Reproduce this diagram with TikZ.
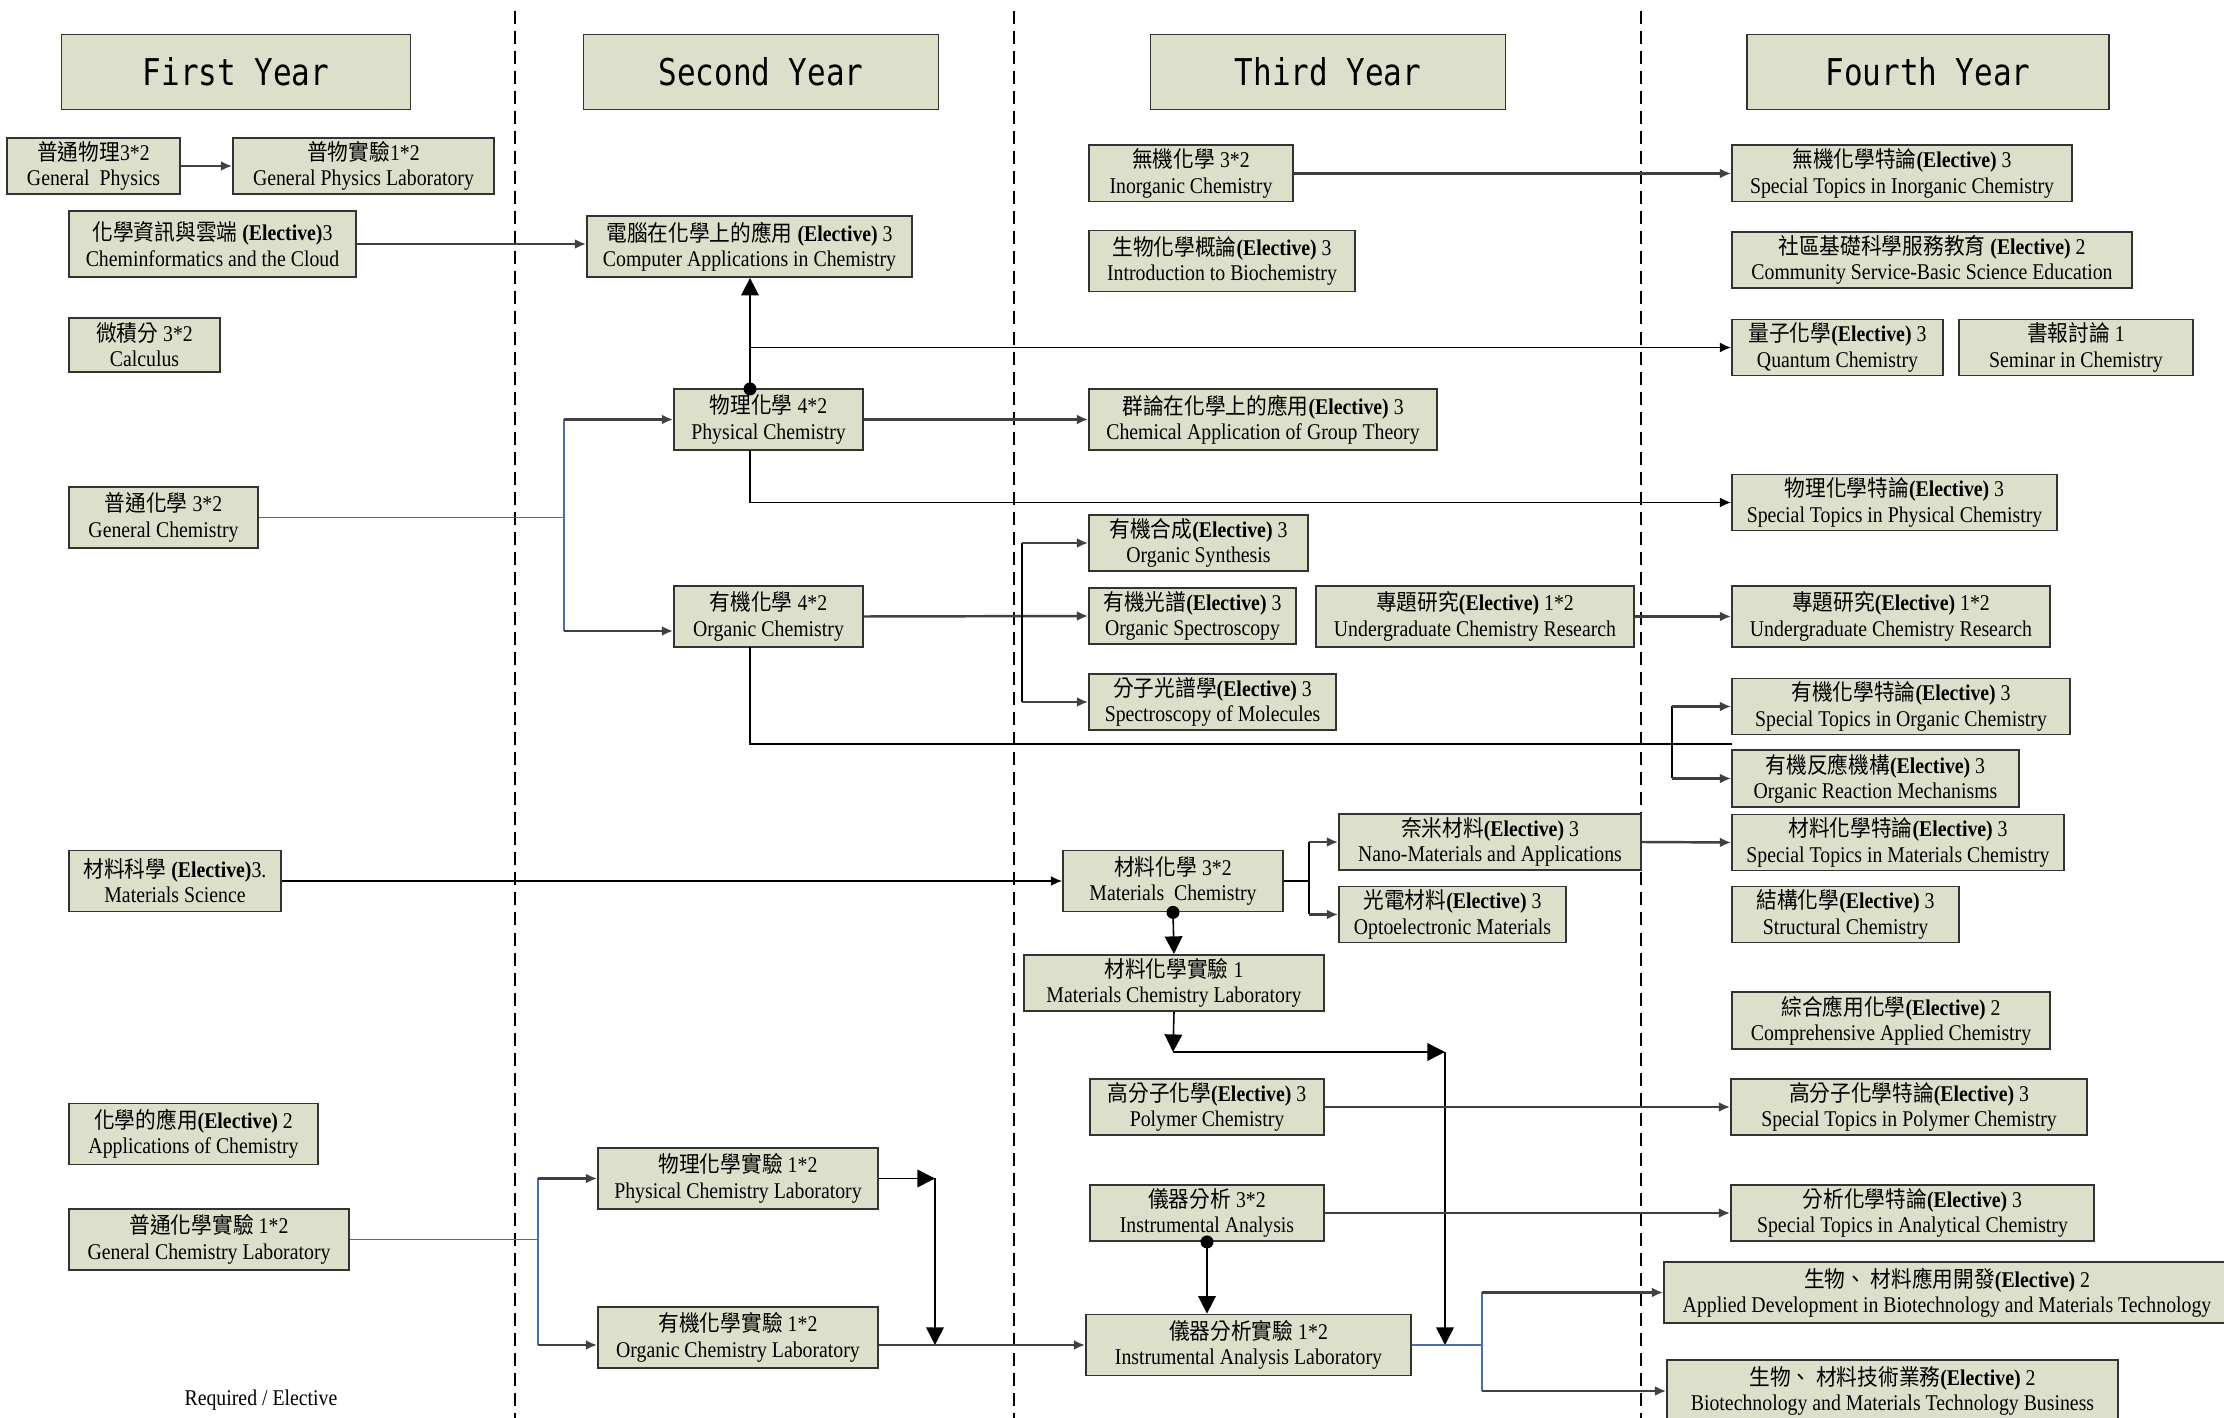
\documentclass[tikz,border=0pt]{standalone}
\usepackage{fontspec}
\setmainfont{Liberation Serif}[FakeStretch=0.88]
\newfontfamily\cjk{Noto Sans CJK TC}[FakeStretch=0.92]
\newfontfamily\hdr{DejaVu Sans Mono}[FakeStretch=0.84]
\usetikzlibrary{arrows.meta}
\definecolor{boxfill}{HTML}{DCE0CB}
\definecolor{lineblue}{HTML}{4A6EA9}
\newcommand{\zh}[1]{{\cjk #1}}
\newcommand{\el}{\textbf{(Elective)}}

\begin{document}
\begin{tikzpicture}[
  box/.style={rectangle,draw=black!80,line width=0.5pt,fill=boxfill,
              minimum height=0.54cm,inner sep=1pt,align=center,
              font=\fontsize{6.4}{7.2}\selectfont},
  tall/.style={box,minimum height=0.61cm},
  yearbox/.style={rectangle,draw=black!80,line width=0.5pt,fill=boxfill,
              minimum width=3.55cm,minimum height=0.75cm,
              font=\hdr\fontsize{10.5}{12}\selectfont},
  colsep/.style={draw=black,line width=0.6pt,dash pattern=on 3.7pt off 2pt},
  arr/.style={-{Latex[length=3.2pt,width=2.8pt]},draw=black!75,line width=0.7pt},
  lnk/.style={draw=black,line width=0.45pt},
  lnkarr/.style={lnk,-{Latex[length=3.2pt,width=2.8pt]}},
  blu/.style={draw=lineblue,line width=0.45pt},
  tri/.style={-{Triangle[length=5pt,width=5pt]},draw=black,line width=0.45pt}
]
\useasboundingbox (0,0) rectangle (22.24,-14.18);
\clip (0,0) rectangle (22.24,-14.18);

% Year separators
\draw[colsep] (5.15,-0.11) -- (5.15,-14.18);
\draw[colsep] (10.14,-0.11) -- (10.14,-14.18);
\draw[colsep] (16.41,-0.11) -- (16.41,-14.18);

% Year headers
\node[yearbox,minimum width=3.49cm] (yr1) at (2.36,-0.72) {First Year};
\node[yearbox] (yr2) at (7.61,-0.72) {Second Year};
\node[yearbox] (yr3) at (13.28,-0.72) {Third Year};
\node[yearbox,minimum width=3.62cm] (yr4) at (19.28,-0.72) {Fourth Year};

% First year
\node[box,minimum width=1.73cm] (gp)   at (0.935,-1.66) {\zh{普通物理}3*2\\General~~Physics};
\node[box,minimum width=2.61cm] (gpl)  at (3.635,-1.66) {\zh{普物實驗}1*2\\General Physics Laboratory};
\node[box,minimum width=2.87cm,minimum height=0.66cm] (cic) at (2.125,-2.44) {\zh{化學資訊與雲端} \el3\\Cheminformatics and the Cloud};
\node[box,minimum width=1.51cm] (calc) at (1.445,-3.45) {\zh{微積分} 3*2\\Calculus};
\node[tall,minimum width=1.89cm] (gc)  at (1.635,-5.175) {\zh{普通化學} 3*2\\General Chemistry};
\node[tall,minimum width=2.12cm] (ms)  at (1.75,-8.81) {\zh{材料科學} \el3.\\Materials Science};
\node[tall,minimum width=2.49cm] (aoc) at (1.935,-11.34) {\zh{化學的應用}\el{} 2\\Applications of Chemistry};
\node[tall,minimum width=2.80cm] (gcl) at (2.09,-12.395) {\zh{普通化學實驗} 1*2\\General Chemistry Laboratory};
\node[font=\fontsize{6.4}{7.2}\selectfont] (legend) at (2.61,-14.00) {Required / Elective};

% Second year
\node[tall,minimum width=3.25cm] (cac) at (7.495,-2.465) {\zh{電腦在化學上的應用} \el{} 3\\Computer Applications in Chemistry};
\node[tall,minimum width=1.89cm] (pc)  at (7.685,-4.195) {\zh{物理化學} 4*2\\Physical Chemistry};
\node[tall,minimum width=1.89cm] (oc)  at (7.685,-6.165) {\zh{有機化學} 4*2\\Organic Chemistry};
\node[tall,minimum width=2.80cm] (pcl) at (7.38,-11.785) {\zh{物理化學實驗} 1*2\\Physical Chemistry Laboratory};
\node[tall,minimum width=2.80cm] (ocl) at (7.38,-13.375) {\zh{有機化學實驗} 1*2\\Organic Chemistry Laboratory};

% Third year
\node[box,minimum width=2.04cm]  (ic)    at (11.91,-1.735) {\zh{無機化學} 3*2\\Inorganic Chemistry};
\node[tall,minimum width=2.66cm] (bio)   at (12.22,-2.61) {\zh{生物化學概論}\el{} 3\\Introduction to Biochemistry};
\node[tall,minimum width=3.48cm] (grp)   at (12.63,-4.195) {\zh{群論在化學上的應用}\el{} 3\\Chemical Application of Group Theory};
\node[box,minimum width=2.19cm]  (osyn)  at (11.985,-5.43) {\zh{有機合成}\el{} 3\\Organic Synthesis};
\node[box,minimum width=2.07cm]  (ospec) at (11.925,-6.16) {\zh{有機光譜}\el{} 3\\Organic Spectroscopy};
\node[tall,minimum width=3.18cm] (ucr3)  at (14.75,-6.165) {\zh{專題研究}\el{} 1*2\\Undergraduate Chemistry Research};
\node[box,minimum width=2.47cm]  (smol)  at (12.125,-7.02) {\zh{分子光譜學}\el{} 3\\Spectroscopy of Molecules};
\node[tall,minimum width=2.20cm] (mc)    at (11.73,-8.81) {\zh{材料化學} 3*2\\Materials~~Chemistry};
\node[box,minimum width=3.02cm]  (nano)  at (14.90,-8.42) {\zh{奈米材料}\el{} 3\\Nano-Materials and Applications};
\node[box,minimum width=2.27cm]  (opto)  at (14.525,-9.145) {\zh{光電材料}\el{} 3\\Optoelectronic Materials};
\node[box,minimum width=3.00cm]  (mcl)   at (11.74,-9.83) {\zh{材料化學實驗} 1\\Materials Chemistry Laboratory};
\node[box,minimum width=2.34cm]  (poly)  at (12.07,-11.07) {\zh{高分子化學}\el{} 3\\Polymer Chemistry};
\node[box,minimum width=2.34cm]  (ia)    at (12.07,-12.13) {\zh{儀器分析} 3*2\\Instrumental Analysis};
\node[tall,minimum width=3.25cm] (ial)   at (12.485,-13.45) {\zh{儀器分析實驗} 1*2\\Instrumental Analysis Laboratory};

% Fourth year
\node[box,minimum width=3.40cm]  (stic)   at (19.02,-1.735) {\zh{無機化學特論}\el{} 3\\Special Topics in Inorganic Chemistry};
\node[box,minimum width=4.00cm]  (csb)    at (19.32,-2.60) {\zh{社區基礎科學服務教育} \el{} 2\\Community Service-Basic Science Education};
\node[box,minimum width=2.11cm]  (qc)     at (18.375,-3.475) {\zh{量子化學}\el{} 3\\Quantum Chemistry};
\node[box,minimum width=2.34cm]  (sem)    at (20.76,-3.475) {\zh{書報討論} 1\\Seminar in Chemistry};
\node[box,minimum width=3.25cm]  (stpc)   at (18.945,-5.025) {\zh{物理化學特論}\el{} 3\\Special Topics in Physical Chemistry};
\node[tall,minimum width=3.18cm] (ucr4)   at (18.91,-6.165) {\zh{專題研究}\el{} 1*2\\Undergraduate Chemistry Research};
\node[box,minimum width=3.38cm]  (stoc)   at (19.01,-7.065) {\zh{有機化學特論}\el{} 3\\Special Topics in Organic Chemistry};
\node[box,minimum width=2.87cm]  (orm)    at (18.755,-7.785) {\zh{有機反應機構}\el{} 3\\Organic Reaction Mechanisms};
\node[box,minimum width=3.32cm]  (stmc)   at (18.98,-8.425) {\zh{材料化學特論}\el{} 3\\Special Topics in Materials Chemistry};
\node[box,minimum width=2.27cm]  (stc)    at (18.455,-9.145) {\zh{結構化學}\el{} 3\\Structural Chemistry};
\node[box,minimum width=3.18cm]  (capp)   at (18.91,-10.205) {\zh{綜合應用化學}\el{} 2\\Comprehensive Applied Chemistry};
\node[box,minimum width=3.56cm]  (stpoly) at (19.09,-11.07) {\zh{高分子化學特論}\el{} 3\\Special Topics in Polymer Chemistry};
\node[box,minimum width=3.63cm]  (stac)   at (19.125,-12.13) {\zh{分析化學特論}\el{} 3\\Special Topics in Analytical Chemistry};
\node[tall,minimum width=5.66cm] (bioapp) at (19.47,-12.925) {\zh{生物、 材料應用開發}\el{} 2\\Applied Development in Biotechnology and Materials Technology};
\node[tall,minimum width=4.51cm,minimum height=0.62cm] (biobiz) at (18.925,-13.91) {\zh{生物、 材料技術業務}\el{} 2\\Biotechnology and Materials Technology Business};

% Branch points
\coordinate (gcj)  at (5.64,-5.175);
\coordinate (gcb)  at (5.64,-6.31);
\coordinate (pct)  at (7.50,-3.89);
\coordinate (pcs)  at (7.50,-4.50);
\coordinate (ocj)  at (10.22,-6.16);
\coordinate (ocs)  at (7.50,-6.47);
\coordinate (ocend) at (17.32,-7.44);
\coordinate (oj)   at (16.72,-7.44);
\coordinate (mcj)  at (13.09,-8.81);
\coordinate (mcA)  at (11.73,-10.52);
\coordinate (mcB)  at (14.45,-10.52);
\coordinate (mcC)  at (14.45,-13.45);
\coordinate (pclA) at (9.35,-11.785);
\coordinate (pclB) at (9.35,-13.45);
\coordinate (gclj) at (5.38,-12.395);
\coordinate (gclb) at (5.38,-13.45);
\coordinate (ialj) at (14.82,-13.45);

% First year links
\draw[arr] (gp.east) -- (gpl.west);
\draw[arr] (cic.east) -- (cic.east -| cac.west);
\draw[blu] (gc.east) -- (gcj);
\draw[blu] (gcj |- pc.west) -- (gcb);
\draw[arr] (gcj |- pc.west) -- (pc.west);
\draw[arr] (gcb) -- (gcb -| oc.west);
\draw[lnkarr] (ms.east) -- (mc.west);
\draw[blu] (gcl.east) -- (gclj);
\draw[blu] (gclj |- pcl.west) -- (gclb);
\draw[arr] (gclj |- pcl.west) -- (pcl.west);
\draw[arr] (gclb) -- (gclb -| ocl.west);

% Second year links
\draw[tri] (pct) -- (pct |- cac.south);
\fill (pct) circle (0.065cm);
\draw[lnkarr] (pct |- qc.west) -- (qc.west);
\draw[arr] (pc.east) -- (grp.west);
\draw[lnkarr] (pcs) |- (stpc.west);
\draw[arr] (oc.east) -- (ospec.west);
\draw[lnk] (ocj |- osyn.west) -- (ocj |- smol.west);
\draw[arr] (ocj |- osyn.west) -- (osyn.west);
\draw[arr] (ocj |- smol.west) -- (smol.west);
\draw[lnk] (ocs) |- (ocend);
\draw[lnk] (oj |- stoc.west) -- (oj |- orm.west);
\draw[arr] (oj |- stoc.west) -- (stoc.west);
\draw[arr] (oj |- orm.west) -- (orm.west);
\draw[tri] (pcl.east) -- (pclA);
\draw[tri] (pclA) -- (pclB);
\draw[arr] (ial.west -| ocl.east) -- (ial.west);

% Third year links
\draw[arr] (ic.east) -- (stic.west);
\draw[arr] (ucr3.east) -- (ucr4.west);
\draw[lnk] (mc.east) -- (mcj);
\draw[lnk] (mcj |- nano.west) -- (mcj |- opto.west);
\draw[arr] (mcj |- nano.west) -- (nano.west);
\draw[arr] (mcj |- opto.west) -- (opto.west);
\draw[arr] (nano.east) -- (stmc.west);
\draw[tri] (mc.south) -- (mcl.north);
\fill (mc.south) circle (0.065cm);
\draw[tri] (mcl.south) -- (mcA);
\draw[tri] (mcA) -- (mcB);
\draw[tri] (mcB) -- (mcC);
\draw[arr] (poly.east) -- (stpoly.west);
\draw[arr] (ia.east) -- (stac.west);
\draw[tri] (ia.south) -- (ia.south |- ial.north);
\fill (ia.south) circle (0.065cm);
\draw[blu] (ial.east) -- (ialj);
\draw[blu] (ialj |- bioapp.west) -- (ialj |- biobiz.west);
\draw[arr] (ialj |- bioapp.west) -- (bioapp.west);
\draw[arr] (ialj |- biobiz.west) -- (biobiz.west);

\end{tikzpicture}
\end{document}
